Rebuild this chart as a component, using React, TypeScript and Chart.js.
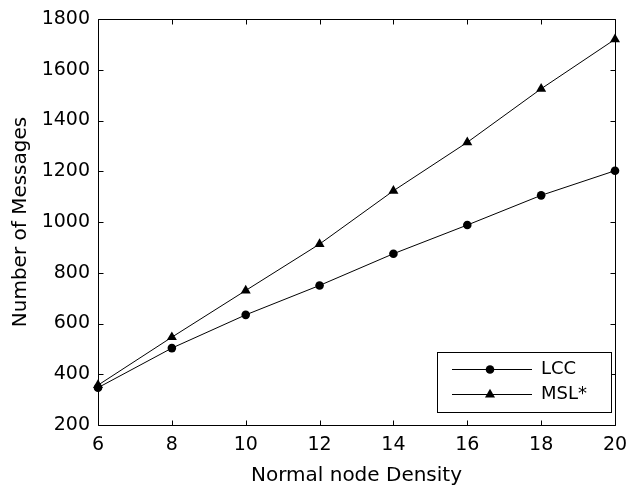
import React, { useEffect, useRef } from 'react';
import { Chart, registerables } from 'chart.js';

Chart.register(...registerables);

const densities = [6, 8, 10, 12, 14, 16, 18, 20];
const lccMessages = [347, 503, 634, 750, 875, 988, 1105, 1202];
const mslMessages = [357, 546, 730, 913, 1123, 1314, 1525, 1720];
const seriesLabels = ['LCC', 'MSL*'];
const xTickValues = [6, 8, 10, 12, 14, 16, 18, 20];
const yTickValues = [200, 400, 600, 800, 1000, 1200, 1400, 1600, 1800];

const FONT = "'DejaVu Sans', sans-serif";

const framePlugin = {
  id: 'frame',
  beforeDatasetsDraw(chart: any) {
    const { ctx, chartArea: a, scales } = chart;
    const L = Math.round(a.left) + 0.5;
    const R = Math.round(a.right) + 0.5;
    const T = Math.round(a.top) + 0.5;
    const B = Math.round(a.bottom) + 0.5;
    const tl = 5;
    ctx.save();
    ctx.strokeStyle = '#000';
    ctx.lineWidth = 1;
    ctx.beginPath();
    ctx.rect(L, T, R - L, B - T);
    for (const v of xTickValues) {
      const px = Math.round(scales.x.getPixelForValue(v)) + 0.5;
      ctx.moveTo(px, B);
      ctx.lineTo(px, B - tl);
      ctx.moveTo(px, T);
      ctx.lineTo(px, T + tl);
    }
    for (const v of yTickValues) {
      const py = Math.round(scales.y.getPixelForValue(v)) + 0.5;
      ctx.moveTo(L, py);
      ctx.lineTo(L + tl, py);
      ctx.moveTo(R, py);
      ctx.lineTo(R - tl, py);
    }
    ctx.stroke();
    ctx.restore();
  },
};

function drawMarker(ctx: CanvasRenderingContext2D, style: string, x: number, y: number, r: number) {
  ctx.beginPath();
  if (style === 'circle') {
    ctx.arc(x, y, r, 0, Math.PI * 2);
  } else {
    const h = r * 1.5;
    const w = r * Math.sqrt(3);
    ctx.moveTo(x, y - r);
    ctx.lineTo(x + w / 2, y - r + h);
    ctx.lineTo(x - w / 2, y - r + h);
    ctx.closePath();
  }
  ctx.fill();
}

const legendPlugin = {
  id: 'boxLegend',
  afterDatasetsDraw(chart: any) {
    const { ctx } = chart;
    const x0 = 437.5, y0 = 352.5, x1 = 611.5, y1 = 412.5;
    ctx.save();
    ctx.fillStyle = '#fff';
    ctx.fillRect(x0, y0, x1 - x0, y1 - y0);
    ctx.strokeStyle = '#000';
    ctx.lineWidth = 1;
    ctx.strokeRect(x0, y0, x1 - x0, y1 - y0);
    const rows = [369.5, 394.5];
    chart.data.datasets.forEach((ds: any, i: number) => {
      const y = rows[i];
      ctx.beginPath();
      ctx.moveTo(452, y);
      ctx.lineTo(532, y);
      ctx.strokeStyle = '#000';
      ctx.stroke();
      ctx.fillStyle = '#000';
      drawMarker(ctx, ds.pointStyle, 490, y, ds.pointRadius);
      ctx.font = `18px ${FONT}`;
      ctx.textBaseline = 'middle';
      ctx.textAlign = 'left';
      ctx.fillText(ds.label, 541, y);
    });
    ctx.restore();
  },
};

export default function App() {
  const canvasRef = useRef<HTMLCanvasElement | null>(null);

  useEffect(() => {
    const canvas = canvasRef.current;
    if (!canvas) return;
    const chart = new Chart(canvas, {
      type: 'line',
      data: {
        datasets: [
          {
            label: seriesLabels[0],
            data: densities.map((d, i) => ({ x: d, y: lccMessages[i] })),
            borderColor: '#000',
            backgroundColor: '#000',
            borderWidth: 1,
            pointStyle: 'circle',
            pointRadius: 4.3,
            pointBorderWidth: 0,
            pointBackgroundColor: '#000',
            clip: false as any,
          },
          {
            label: seriesLabels[1],
            data: densities.map((d, i) => ({ x: d, y: mslMessages[i] })),
            borderColor: '#000',
            backgroundColor: '#000',
            borderWidth: 1,
            pointStyle: 'triangle',
            pointRadius: 5.8,
            pointBorderWidth: 0,
            pointBackgroundColor: '#000',
            clip: false as any,
          },
        ],
      },
      options: {
        animation: false,
        responsive: false,
        events: [],
        layout: { padding: { left: 0, top: 19, right: 13, bottom: 0 } },
        plugins: { legend: { display: false }, tooltip: { enabled: false } },
        scales: {
          x: {
            type: 'linear',
            min: 6,
            max: 20,
            afterBuildTicks: (scale: any) => {
              scale.ticks = xTickValues.map((v) => ({ value: v }));
            },
            afterFit: (scale: any) => {
              scale.height = 61;
              scale.paddingLeft = 0;
              scale.paddingRight = 0;
            },
            grid: { display: false, drawTicks: false },
            border: { display: false },
            ticks: {
              color: '#000',
              padding: 9,
              maxRotation: 0,
              autoSkip: false,
              font: { family: FONT, size: 19 },
              callback: (v: any) => String(v),
            },
            title: {
              display: true,
              text: 'Normal node Density',
              color: '#000',
              font: { family: FONT, size: 20, lineHeight: 1 },
              padding: { top: 0, bottom: 0 },
            },
          },
          y: {
            type: 'linear',
            min: 200,
            max: 1800,
            afterBuildTicks: (scale: any) => {
              scale.ticks = yTickValues.map((v) => ({ value: v }));
            },
            afterFit: (scale: any) => {
              scale.width = 98;
              scale.paddingTop = 0;
              scale.paddingBottom = 0;
            },
            grid: { display: false, drawTicks: false },
            border: { display: false },
            ticks: {
              color: '#000',
              padding: 8,
              autoSkip: false,
              font: { family: FONT, size: 19 },
              callback: (v: any) => String(v),
            },
            title: {
              display: true,
              text: 'Number of Messages',
              color: '#000',
              font: { family: FONT, size: 20, lineHeight: 1 },
              padding: { top: 11, bottom: 0 },
            },
          },
        },
      },
      plugins: [framePlugin, legendPlugin],
    });
    return () => chart.destroy();
  }, []);

  return (
    <div style={{ position: 'fixed', left: 0, top: 0, width: 628, height: 486, background: '#fff' }}>
      <canvas ref={canvasRef} width={628} height={486} style={{ display: 'block' }} />
    </div>
  );
}
